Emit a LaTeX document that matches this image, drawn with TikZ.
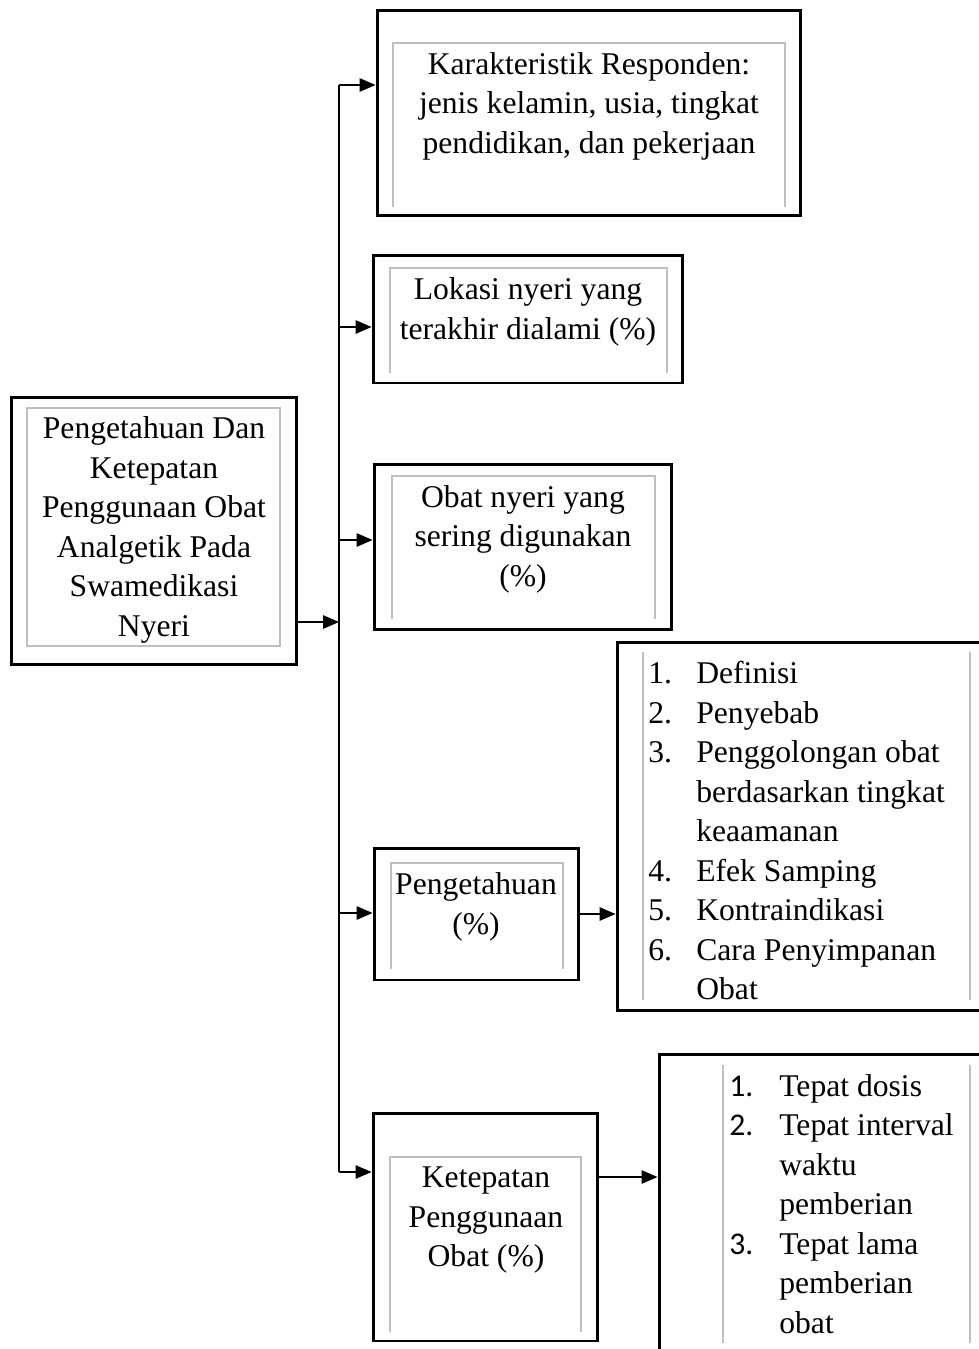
\documentclass[tikz,border=0pt]{standalone}
\usepackage{fontspec}
\setmainfont{Liberation Serif}
\newfontfamily\numfont{Carlito}
\usetikzlibrary{arrows.meta,positioning}

\begin{document}
\begin{tikzpicture}[
                x=0.02cm,y=-0.02cm,
                box/.style={draw,line width=1.7pt,inner sep=0pt},
                frame/.style={draw=black!25,line width=0.6pt},
                txt/.style={align=center,inner sep=0pt,font=\fontsize{18}{22.5}\selectfont},
                lst/.style={align=left,inner sep=0pt,anchor=north west,font=\fontsize{18}{22.5}\selectfont},
                arr/.style={line width=0.7pt,-{Triangle[length=0.32cm,width=0.27cm]}}
            ]
                \useasboundingbox (0,0) rectangle (978,1349);
                % outer boxes
                \node[box,minimum width=5.72cm,minimum height=5.36cm] (main) at (154,531) {};
                \node[box,minimum width=8.48cm,minimum height=4.12cm] (kar) at (589,113) {};
                \node[box,minimum width=6.2cm,minimum height=2.56cm] (lok) at (528,319) {};
                \node[box,minimum width=5.96cm,minimum height=3.32cm] (obat) at (523,547) {};
                \node[box,minimum width=4.1cm,minimum height=2.64cm] (peng) at (476.5,914) {};
                \node[box,minimum width=7.46cm,minimum height=7.38cm] (def) at (803.5,826.5) {};
                \node[box,minimum width=4.5cm,minimum height=4.56cm] (ket) at (485.5,1227) {};
                \node[box,minimum width=6.62cm,minimum height=6.12cm] (tepat) at (824.5,1207) {};
                % inner grey frames
                \draw[frame] (27,408) rectangle (280,646);
                \draw[frame] (393,207) |- (785,43) -- (785,207);
                \draw[frame] (390,373) |- (667,268) -- (667,373);
                \draw[frame] (392,619) |- (655,476) -- (655,619);
                \draw[frame] (391,969) |- (563,863) -- (563,969);
                \draw[frame] (390,1332) |- (581,1157) -- (581,1332);
                \draw[frame] (643,652) -- (643,1000) (970,652) -- (970,1000);
                \draw[frame] (723,1065) -- (723,1343) (970,1065) -- (970,1343);
                % texts
                \node[txt] (maintxt) at (154,530) {Pengetahuan Dan\\Ketepatan\\Penggunaan Obat\\Analgetik Pada\\Swamedikasi\\Nyeri};
                \node[txt] (kartxt) at (589,106) {Karakteristik Responden:\\jenis kelamin, usia, tingkat\\pendidikan, dan pekerjaan};
                \node[txt] (loktxt) at (528,312) {Lokasi nyeri yang\\terakhir dialami (\%)};
                \node[txt] (obattxt) at (523,539) {Obat nyeri yang\\sering digunakan\\(\%)};
                \node[txt] (pengtxt) at (476,907) {Pengetahuan\\(\%)};
                \node[txt] (kettxt) at (486,1220) {Ketepatan\\Penggunaan\\Obat (\%)};
                \node[lst] (deftxt) at (648,661) {%
                    \makebox[0.96cm][l]{1.}Definisi\\
                    \makebox[0.96cm][l]{2.}Penyebab\\
                    \makebox[0.96cm][l]{3.}Penggolongan obat\\
                    \hspace*{0.96cm}berdasarkan tingkat\\
                    \hspace*{0.96cm}keaamanan\\
                    \makebox[0.96cm][l]{4.}Efek Samping\\
                    \makebox[0.96cm][l]{5.}Kontraindikasi\\
                    \makebox[0.96cm][l]{6.}Cara Penyimpanan\\
                    \hspace*{0.96cm}Obat};
                \node[lst] (tepattxt) at (729,1074) {%
                    \makebox[1cm][l]{\numfont 1.}Tepat dosis\\
                    \makebox[1cm][l]{\numfont 2.}Tepat interval\\
                    \hspace*{1cm}waktu\\
                    \hspace*{1cm}pemberian\\
                    \makebox[1cm][l]{\numfont 3.}Tepat lama\\
                    \hspace*{1cm}pemberian\\
                    \hspace*{1cm}obat};
                % connectors
                \coordinate (ttop) at (339,85);
                \coordinate (tbot) at (339,1172);
                \coordinate (join) at (339,622);
                \draw[line width=1pt] (ttop) -- (tbot);
                \draw[arr] (main.east |- join) -- (join);
                \foreach \y/\n in {85/kar,327/lok,540/obat,913/peng,1172/ket}
                    {\coordinate (b\n) at (339,\y);
                     \draw[arr] (b\n) -- (\n.west |- b\n);}
                \draw[arr] (peng.east) -- (def.west |- peng.east);
                \draw[arr] (ket.east |- 0,1177) -- (tepat.west |- 0,1177);
            \end{tikzpicture}
\end{document}
